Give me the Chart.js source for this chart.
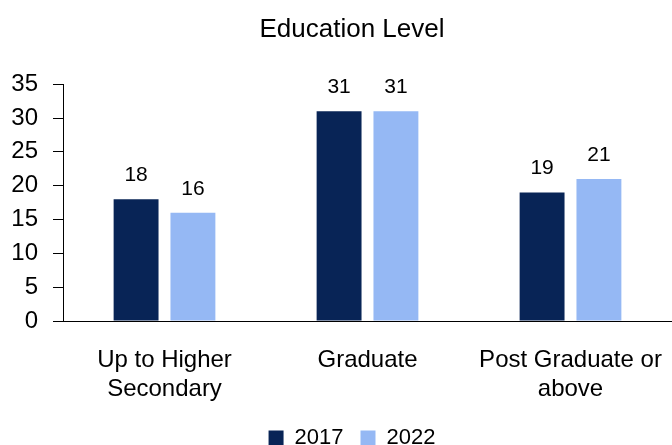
<!DOCTYPE html>
<html>
<head>
<meta charset="utf-8">
<script src="https://cdn.jsdelivr.net/npm/chart.js@4"></script>
<style>
  html, body { margin: 0; padding: 0; background: #fff; }
  #wrap { width: 672px; height: 445px; }
</style>
</head>
<body>
<div id="wrap"><canvas id="eduChart"></canvas></div>
<script>
// data
const categories = [["Up to Higher", "Secondary"], "Graduate", ["Post Graduate or", "above"]];
const seriesNames = ["2017", "2022"];
const values2017 = [18, 31, 19];
const values2022 = [16, 31, 21];
const yTicks = [0, 5, 10, 15, 20, 25, 30, 35];

const FONT = "'Liberation Sans', Arial, sans-serif";

// draws the value above each bar
const barValues = {
  id: "barValues",
  afterDatasetsDraw(chart) {
    const ctx = chart.ctx;
    ctx.save();
    ctx.font = "21px " + FONT;
    ctx.fillStyle = "#000";
    ctx.textAlign = "center";
    ctx.textBaseline = "middle";
    chart.data.datasets.forEach((ds, i) => {
      chart.getDatasetMeta(i).data.forEach((bar, j) => {
        ctx.fillText(ds.data[j], bar.x, bar.y - 24);
      });
    });
    ctx.restore();
  }
};

// title and legend are centred over the plot area, not the whole canvas
const centreOnPlot = {
  id: "centreOnPlot",
  afterLayout(chart) {
    const shift = 16;
    [chart.titleBlock, chart.legend].forEach((box) => {
      if (!box) return;
      box.left += shift;
      box.right += shift;
    });
  }
};

new Chart(document.getElementById("eduChart"), {
  type: "bar",
  data: {
    labels: categories,
    datasets: [
      {
        label: seriesNames[0],
        data: values2017,
        backgroundColor: "#082456",
      },
      {
        label: seriesNames[1],
        data: values2022,
        backgroundColor: "#95b8f4",
      },
    ],
  },
  options: {
    responsive: true,
    maintainAspectRatio: false,
    animation: false,
    layout: { padding: { left: 0, right: 0, top: 0, bottom: -14 } },
    datasets: {
      bar: { categoryPercentage: 0.56, barPercentage: 0.79 },
    },
    scales: {
      x: {
        grid: { display: false },
        border: { color: "#000", width: 1 },
        afterFit: (scale) => {
          scale.height = 89;
          scale.paddingLeft = 0;
          scale.paddingRight = 0;
        },
        ticks: {
          color: "#000",
          padding: 17,
          font: { family: FONT, size: 24, lineHeight: 1.2 },
          maxRotation: 0,
        },
      },
      y: {
        min: 0,
        max: 35,
        afterBuildTicks: (scale) => {
          scale.ticks = yTicks.map((v) => ({ value: v }));
        },
        afterFit: (scale) => {
          scale.width = 63;
        },
        grid: {
          drawOnChartArea: false,
          color: "#000",
          tickLength: 10,
        },
        border: { color: "#000", width: 1 },
        ticks: {
          color: "#000",
          padding: 15,
          autoSkip: false,
          font: { family: FONT, size: 24 },
        },
      },
    },
    plugins: {
      title: {
        display: true,
        text: "Education Level",
        color: "#000",
        font: { family: FONT, size: 26, weight: "normal" },
        padding: { top: 14, bottom: 39 },
      },
      legend: {
        position: "bottom",
        labels: {
          color: "#000",
          boxWidth: 15,
          boxHeight: 15,
          padding: 17,
          font: { family: FONT, size: 22 },
        },
      },
      tooltip: { enabled: false },
    },
  },
  plugins: [barValues, centreOnPlot],
});
</script>
</body>
</html>
